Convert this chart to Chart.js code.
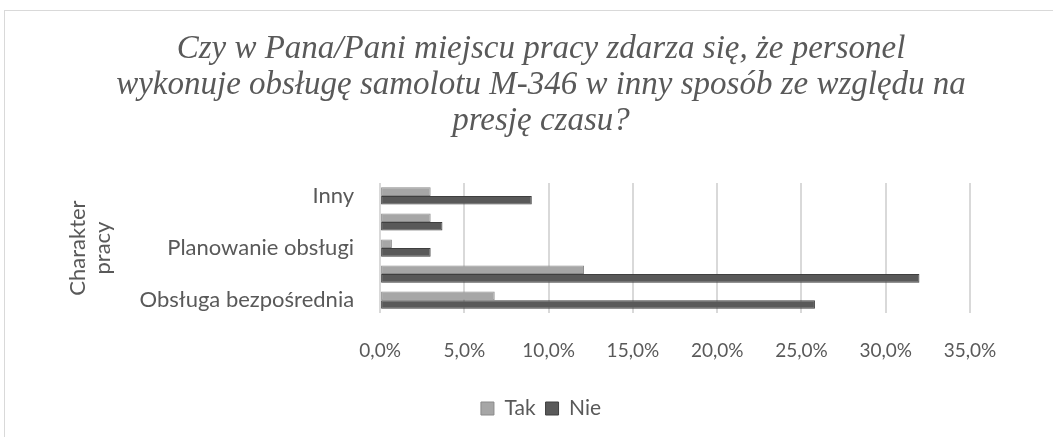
<!DOCTYPE html>
<html><head><meta charset="utf-8">
<script src="https://cdn.jsdelivr.net/npm/chart.js@4"></script>
<style>
html,body{margin:0;padding:0;background:#fff;}
#wrap{position:relative;width:1053px;height:437px;overflow:hidden;}
#frame{position:absolute;left:4px;top:10px;width:1100px;height:500px;border:1px solid #d9d9d9;box-sizing:border-box;}
canvas{position:absolute;left:0;top:0;}
</style></head><body>
<div id="wrap"><div id="frame"></div><canvas id="c" width="1053" height="437"></canvas></div>
<script>
const categories = ["Inny", "Kierowanie obsługą", "Planowanie obsługi", "Nadzór nad obsługą", "Obsługa bezpośrednia"];
const shownLabels = ["Inny", "", "Planowanie obsługi", "", "Obsługa bezpośrednia"];
const tak = [3.0, 3.0, 0.7, 12.1, 6.8];
const nie = [9.0, 3.7, 3.0, 32.0, 25.8];
const xTicks = [0, 5, 10, 15, 20, 25, 30, 35];
const titleLines = ["Czy w Pana/Pani miejscu pracy zdarza się, że personel", "wykonuje obsługę samolotu M-346 w inny sposób ze względu na", "presję czasu?"];
const axisTitle = ["Charakter", "pracy"];

const txt = '#595959';
new Chart(document.getElementById('c'), {
  type: 'bar',
  data: {
    labels: categories,
    datasets: [
      {label: 'Tak', data: tak, backgroundColor: '#a6a6a6', borderColor: '#8a8a8a', borderWidth: 1, borderSkipped: false},
      {label: 'Nie', data: nie, backgroundColor: '#595959', borderColor: '#3f3f3f', borderWidth: 1, borderSkipped: false}
    ]
  },
  options: {
    indexAxis: 'y',
    responsive: false,
    animation: false,
    layout: {padding: {left: 112, right: 83, top: 0, bottom: 8}},
    datasets: {bar: {categoryPercentage: 0.66, barPercentage: 1.0}},
    plugins: {
      title: {display: true, text: titleLines, color: txt,
        font: {family: 'Liberation Serif', style: 'italic', size: 33, weight: 'normal', lineHeight: 1.1},
        padding: {top: 31, bottom: 43}},
      legend: {position: 'bottom', labels: {color: txt, font: {family: 'Lato', size: 21}, boxWidth: 13, boxHeight: 13, padding: 10}},
      tooltip: {enabled: false}
    },
    scales: {
      x: {min: 0, max: 35,
        afterBuildTicks: s => { s.ticks = xTicks.map(v => ({value: v})); },
        grid: {color: '#d9d9d9', lineWidth: 2, drawTicks: false},
        border: {display: false},
        ticks: {color: txt, font: {family: 'Lato', size: 19}, padding: 26,
          callback: v => v.toFixed(1).replace('.', ',') + '%'}
      },
      y: {
        grid: {display: false, drawTicks: false},
        border: {display: false},
        ticks: {color: txt, font: {family: 'Lato', size: 22}, padding: 26, autoSkip: false,
          callback: (v, i) => shownLabels[i]},
        title: {display: true, text: axisTitle, color: txt, font: {family: 'Lato', size: 22, lineHeight: 1.15},
          padding: {top: -47, bottom: -2}}
      }
    }
  }
});
</script></body></html>
